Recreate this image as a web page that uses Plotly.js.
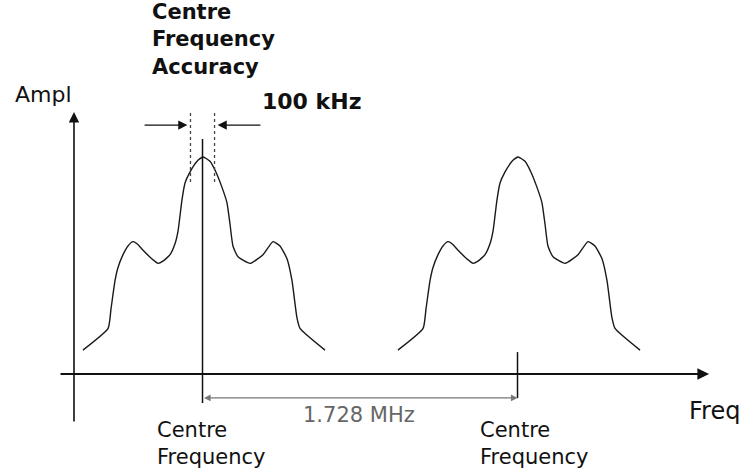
<!DOCTYPE html>
<html>
<head>
<meta charset="utf-8">
<script src="https://cdn.plot.ly/plotly-3.0.1.min.js"></script>
<style>html,body{margin:0;padding:0;background:#fff;}#chart{width:750px;height:475px;}</style>
</head>
<body>
<div id="chart"></div>
<script>
// Channel centre frequencies (MHz, relative to first carrier)
const centres = [0, 1.728];
const spacingLabel = "1.728 MHz";
const accuracyLabel = "100 kHz";
const accuracyHalfWidth = 0.066; // MHz (dotted limits either side of centre)

// Spectrum shape: frequency offset from centre (MHz) and relative amplitude
const shapeOffset = [-0.656, -0.518, -0.502, -0.480, -0.464, -0.436, -0.409, -0.381, -0.359, -0.326,
  -0.277, -0.244, -0.217, -0.178, -0.151, -0.134, -0.113, -0.096, -0.069, -0.030, 0.003,
  0.041, 0.074, 0.107, 0.134, 0.151, 0.167, 0.195, 0.261, 0.332, 0.387, 0.425, 0.464,
  0.491, 0.518, 0.535, 0.672];
const shapeAmp = [0.11, 0.21, 0.30, 0.43, 0.49, 0.55, 0.59, 0.61, 0.60, 0.57,
  0.53, 0.51, 0.52, 0.55, 0.60, 0.66, 0.80, 0.88, 0.93, 0.98, 1.00,
  0.98, 0.93, 0.86, 0.79, 0.69, 0.59, 0.54, 0.51, 0.55, 0.61, 0.59, 0.53,
  0.43, 0.26, 0.21, 0.11];

const axisLabelX = "Freq";
const axisLabelY = "Ampl";
const centreLabel = ["Centre", "Frequency"];
const accuracyTitle = ["Centre", "Frequency", "Accuracy"];

const traces = centres.map(c => ({
  type: "scatter", mode: "lines",
  x: shapeOffset.map(o => o + c), y: shapeAmp,
  line: {color: "#1a1a1a", width: 1.4, shape: "spline", smoothing: 0.5},
  hoverinfo: "skip"
}));

const font = "DejaVu Sans, Arial, sans-serif";
const ink = "#111";

const shapes = [
  // centre marker lines
  {type: "line", xref: "x", yref: "y", x0: centres[0], x1: centres[0], y0: -0.134, y1: 1.083, line: {color: ink, width: 1.5}},
  {type: "line", xref: "x", yref: "y", x0: centres[1], x1: centres[1], y0: -0.111, y1: 0.101, line: {color: ink, width: 1.5}},
  // accuracy dotted limits
  {type: "line", xref: "x", yref: "y", x0: centres[0] - accuracyHalfWidth, x1: centres[0] - accuracyHalfWidth, y0: 0.885, y1: 1.217, line: {color: "#444", width: 1.3, dash: "dot"}},
  {type: "line", xref: "x", yref: "y", x0: centres[0] + accuracyHalfWidth, x1: centres[0] + accuracyHalfWidth, y0: 0.885, y1: 1.217, line: {color: "#444", width: 1.3, dash: "dot"}}
];

const arrow = (x, y, ax, ay, opts) => Object.assign({
  x: x, y: y, ax: ax, ay: ay, xref: "x", yref: "y", axref: "x", ayref: "y",
  text: "", showarrow: true, arrowhead: 2, arrowsize: 1.3, arrowwidth: 1.6, arrowcolor: ink
}, opts || {});

const label = (text, x, y, opts) => Object.assign({
  text: text, x: x, y: y, xref: "x", yref: "y", showarrow: false,
  xanchor: "left", yanchor: "middle", align: "left",
  font: {family: font, size: 23, color: ink}
}, opts || {});

const annotations = [
  // axes
  arrow(2.779, 0, -0.787, 0, {arrowwidth: 1.8}),
  arrow(-0.705, 1.207, -0.705, -0.226, {arrowwidth: 1.6}),
  // accuracy arrows
  arrow(centres[0] - accuracyHalfWidth - 0.017, 1.147, -0.326, 1.147, {arrowwidth: 1.4}),
  arrow(centres[0] + accuracyHalfWidth + 0.017, 1.147, 0.326, 1.147, {arrowwidth: 1.4}),
  // spacing arrow
  arrow(centres[1], -0.11, centres[0], -0.11, {arrowside: "end+start", arrowcolor: "#777", arrowwidth: 1.1, arrowsize: 1.2}),
  // texts
  label(axisLabelY, -0.872, 1.286, {xanchor: "center", font: {family: font, size: 22, color: ink}}),
  label(axisLabelX, 2.806, -0.171, {xanchor: "center", font: {family: font, size: 24, color: ink}}),
  label(accuracyTitle.join("<br>"), -0.288, 1.54, {font: {family: font, size: 21, color: ink, weight: "bold"}}),
  label(accuracyLabel, 0.315, 1.254, {font: {family: font, size: 22, color: ink, weight: "bold"}}),
  label(spacingLabel, 0.859, -0.189, {xanchor: "center", font: {family: font, size: 21, color: "#666"}}),
  label(centreLabel.join("<br>"), -0.261, -0.322, {font: {family: font, size: 21, color: ink}}),
  label(centreLabel.join("<br>"), 1.511, -0.322, {font: {family: font, size: 21, color: ink}})
];

const layout = {
  width: 750, height: 475,
  margin: {l: 0, r: 0, t: 0, b: 0},
  paper_bgcolor: "#fff", plot_bgcolor: "#fff",
  showlegend: false, hovermode: false,
  xaxis: {range: [-1.1109, 3.0034], visible: false, fixedrange: true},
  yaxis: {range: [-0.4654, 1.7235], visible: false, fixedrange: true},
  shapes: shapes, annotations: annotations
};

Plotly.newPlot("chart", traces, layout, {staticPlot: true, displayModeBar: false});
</script>
</body>
</html>
